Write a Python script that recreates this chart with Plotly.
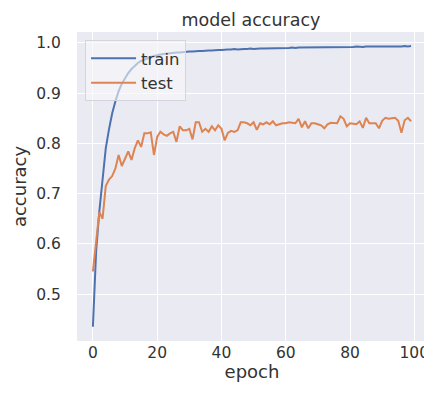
import plotly.graph_objects as go

epochs = list(range(100))

train_acc = [
    0.435, 0.585, 0.665, 0.735, 0.790, 0.828, 0.860, 0.884, 0.904, 0.919,
    0.930, 0.940, 0.948, 0.955, 0.960, 0.964, 0.967, 0.970, 0.972, 0.974,
    0.976, 0.977, 0.978, 0.979, 0.979, 0.980, 0.981, 0.981, 0.982, 0.982,
    0.983, 0.983, 0.984, 0.984, 0.984, 0.985, 0.985, 0.985, 0.986, 0.986,
    0.986, 0.987, 0.987, 0.987, 0.988, 0.987, 0.988, 0.988, 0.988, 0.989,
    0.988, 0.989, 0.989, 0.989, 0.989, 0.990, 0.989, 0.990, 0.990, 0.990,
    0.990, 0.990, 0.991, 0.990, 0.991, 0.991, 0.991, 0.991, 0.991, 0.991,
    0.992, 0.991, 0.991, 0.992, 0.992, 0.991, 0.992, 0.992, 0.992, 0.992,
    0.992, 0.992, 0.993, 0.992, 0.992, 0.993, 0.993, 0.992, 0.993, 0.993,
    0.993, 0.993, 0.993, 0.992, 0.993, 0.993, 0.993, 0.994, 0.993, 0.994,
]

test_acc = [
    0.545, 0.600, 0.663, 0.650, 0.715, 0.728, 0.735, 0.750, 0.777, 0.755,
    0.770, 0.784, 0.767, 0.790, 0.806, 0.793, 0.820, 0.820, 0.822, 0.777,
    0.813, 0.823, 0.818, 0.815, 0.820, 0.823, 0.803, 0.834, 0.826, 0.826,
    0.829, 0.808, 0.842, 0.842, 0.823, 0.829, 0.823, 0.834, 0.826, 0.836,
    0.829, 0.806, 0.821, 0.825, 0.823, 0.826, 0.842, 0.842, 0.840, 0.836,
    0.842, 0.827, 0.840, 0.838, 0.842, 0.838, 0.844, 0.836, 0.838, 0.840,
    0.840, 0.842, 0.841, 0.840, 0.849, 0.832, 0.844, 0.830, 0.840, 0.840,
    0.838, 0.836, 0.830, 0.838, 0.841, 0.840, 0.840, 0.854, 0.849, 0.834,
    0.840, 0.839, 0.838, 0.844, 0.831, 0.851, 0.840, 0.840, 0.840, 0.830,
    0.845, 0.851, 0.849, 0.850, 0.851, 0.845, 0.821, 0.846, 0.851, 0.844,
]

x_ticks = [0, 20, 40, 60, 80, 100]
y_ticks = [0.5, 0.6, 0.7, 0.8, 0.9, 1.0]
y_tick_labels = ["0.5", "0.6", "0.7", "0.8", "0.9", "1.0"]

FONT = "DejaVu Sans"
TXT = "#333333"

fig = go.Figure()
fig.add_trace(go.Scatter(x=epochs, y=train_acc, mode="lines", name="train",
                         line=dict(color="#4C72B0", width=2)))
fig.add_trace(go.Scatter(x=epochs, y=test_acc, mode="lines", name="test",
                         line=dict(color="#DD8452", width=2)))

# page body has an 8px default margin, so the figure is sized to fit inside
fig.update_layout(
    width=424, height=385,
    margin=dict(l=69, r=5, t=24, b=52),
    paper_bgcolor="white",
    plot_bgcolor="#EAEAF2",
    font=dict(family=FONT, color=TXT, size=15),
    title=dict(text="model accuracy", x=0.573, xanchor="center",
               y=0.969, yanchor="middle", font=dict(size=17.5, color=TXT)),
    showlegend=True,
    legend=dict(x=0.023, y=0.974, xanchor="left", yanchor="top",
                bgcolor="rgba(246,246,250,0.6)", bordercolor="#d4d4dc",
                borderwidth=1, font=dict(size=16.5, color=TXT),
                itemwidth=45, tracegroupgap=0),
    xaxis=dict(range=[-4.95, 103.95], tickvals=x_ticks, automargin=False,
               showgrid=True, gridcolor="white", gridwidth=1.2,
               zeroline=False, showline=False, ticks="",
               tickfont=dict(size=15.5, color=TXT),
               title=dict(text="epoch", font=dict(size=18, color=TXT), standoff=2)),
    yaxis=dict(range=[0.4067, 1.0217], tickvals=y_ticks, ticktext=y_tick_labels,
               automargin=False,
               showgrid=True, gridcolor="white", gridwidth=1.2,
               zeroline=False, showline=False,
               ticks="outside", ticklen=12, tickcolor="rgba(0,0,0,0)",
               tickfont=dict(size=15.5, color=TXT),
               title=dict(text="accuracy", font=dict(size=18, color=TXT), standoff=4)),
)

fig.write_html("out.html")
